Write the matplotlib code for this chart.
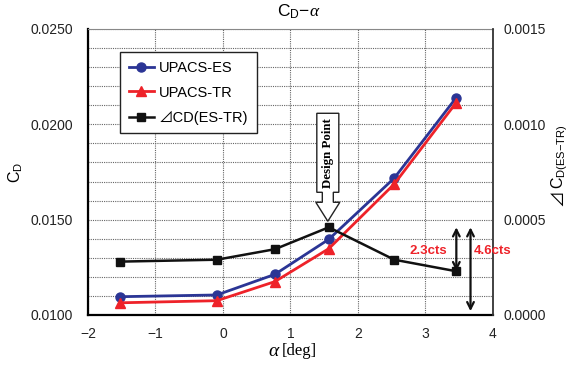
import matplotlib.pyplot as plt
import matplotlib.transforms as mtransforms
from matplotlib.patches import Polygon
from matplotlib.ticker import MultipleLocator, FormatStrFormatter

plt.rcParams['font.family'] = ['Liberation Sans', 'Noto Sans CJK JP', 'DejaVu Sans']
plt.rcParams['mathtext.fontset'] = 'custom'
plt.rcParams['mathtext.rm'] = 'Liberation Sans'
plt.rcParams['mathtext.it'] = 'Liberation Serif:italic'

# angle of attack [deg]
alpha = [-1.52, -0.09, 0.77, 1.57, 2.54, 3.45]
# drag coefficient, two transition settings
cd_es = [0.01096, 0.01105, 0.01213, 0.01397, 0.01718, 0.02136]
cd_tr = [0.01064, 0.01075, 0.01175, 0.01348, 0.01687, 0.02110]
# drag difference ES-TR
dcd = [0.00028, 0.00029, 0.000345, 0.00046, 0.00029, 0.00023]
i_design = 3

fig = plt.figure(figsize=(5.71, 3.67), dpi=100)
ax = fig.add_axes([0.154, 0.1417, 0.709, 0.7793])
ax2 = ax.twinx()

l1, = ax.plot(alpha, cd_es, color='#2b3595', lw=2, marker='o', ms=6.5, zorder=3)
l2, = ax.plot(alpha, cd_tr, color='#ee2229', lw=2, marker='^', ms=7, zorder=3)
l3, = ax2.plot(alpha, dcd, color='#111111', lw=1.8, marker='s', ms=5.5, zorder=3)

ax.set_xlim(-2, 4)
ax.set_ylim(0.0100, 0.0250)
ax2.set_ylim(0.0, 0.0015)
ax.xaxis.set_major_locator(MultipleLocator(1))
ax.yaxis.set_major_locator(MultipleLocator(0.005))
ax.yaxis.set_minor_locator(MultipleLocator(0.001))
ax.yaxis.set_major_formatter(FormatStrFormatter('%.4f'))
ax2.yaxis.set_major_locator(MultipleLocator(0.0005))
ax2.yaxis.set_major_formatter(FormatStrFormatter('%.4f'))

ax.grid(True, which='both', axis='y', ls=(0, (1, 1)), color='#666666', lw=0.8)
ax.grid(True, which='major', axis='x', ls=(0, (1, 1)), color='#666666', lw=0.8)
ax.set_axisbelow(True)

ax.tick_params(which='both', length=0, labelsize=10, colors='#222222')
ax.tick_params(axis='y', pad=11)
ax.tick_params(axis='x', pad=9)
ax2.tick_params(which='both', length=0, labelsize=10, colors='#222222', pad=8)

ax.spines['left'].set_linewidth(1.6)
ax.spines['bottom'].set_linewidth(1.6)
ax.spines['top'].set_color('#888888')
ax.spines['top'].set_linewidth(0.8)
ax.spines['right'].set_visible(False)
for s in ('left', 'bottom', 'top'):
    ax2.spines[s].set_visible(False)
ax2.spines['right'].set_color('#333333')
ax2.spines['right'].set_linewidth(1.3)

fig.text(299 / 571, 1 - 12 / 367, r'C$_\mathrm{D}$$-$$\mathit{\alpha}$', ha='center', va='center', fontsize=12.5)
fig.text(16 / 571, 1 - 172 / 367, r'C$_\mathrm{D}$', rotation=90, ha='center', va='center', fontsize=11.5)
# right axis label: triangle sign + C_D(ES-TR)
fig.text(558 / 571, 1 - 189 / 367, '⊿', rotation=90, ha='center', va='top', fontsize=12,
         family=['Noto Sans CJK JP'])
fig.text(560 / 571, 1 - 189 / 367, r'C$_{\mathrm{D(ES{-}TR)}}$', rotation=90, ha='center', va='bottom',
         fontsize=11.5)
fig.text(281 / 571, 1 - 352 / 367, r'$\mathit{\alpha}$', ha='right', va='center', fontsize=14)
fig.text(282 / 571, 1 - 351 / 367, '[deg]', ha='left', va='center', fontsize=12,
         family=['Liberation Serif'])

leg = ax2.legend([l1, l2, l3], ['UPACS-ES', 'UPACS-TR', '⊿CD(ES-TR)'],
                 loc='upper left', bbox_to_anchor=(0.079, 0.92), borderaxespad=0,
                 fontsize=10.5, fancybox=False, edgecolor='#222222', framealpha=1,
                 handlelength=1.75, handletextpad=0.3, labelspacing=0.75, borderpad=0.6)
leg.get_frame().set_linewidth(1.0)

# call-out arrow above the design point (vertices in inches)
xd, yd = alpha[i_design], dcd[i_design]
trans = fig.dpi_scale_trans + mtransforms.ScaledTranslation(xd, yd, ax2.transData)
verts = [(-0.01, 0.06), (-0.13, 0.25), (-0.065, 0.25), (-0.065, 0.35), (-0.12, 0.35),
         (-0.12, 1.14), (0.10, 1.14), (0.10, 0.35), (0.045, 0.35), (0.045, 0.25),
         (0.11, 0.25)]
ax2.add_patch(Polygon(verts, closed=True, transform=trans, facecolor='white',
                      edgecolor='#222222', lw=1.0, zorder=5, clip_on=False))
ax2.text(-0.01, 0.745, 'Design Point', transform=trans, rotation=90, ha='center', va='center',
         fontsize=9.3, fontweight='bold', family=['Liberation Serif'], zorder=6)

# count arrows at the last point
ax2.annotate('', xy=(3.46, dcd[-1]), xytext=(3.46, dcd[i_design]),
             arrowprops=dict(arrowstyle='<->', color='#111111', lw=1.6, shrinkA=0, shrinkB=0,
                             mutation_scale=12))
ax2.annotate('', xy=(3.67, 0.00002), xytext=(3.67, dcd[i_design]),
             arrowprops=dict(arrowstyle='<->', color='#111111', lw=1.6, shrinkA=0, shrinkB=0,
                             mutation_scale=12), annotation_clip=False)
ax2.text(3.05, 0.000335, '2.3cts', color='#ee2229', fontsize=9.5, fontweight='bold',
         ha='center', va='center')
ax2.text(4.0, 0.000335, '4.6cts', color='#ee2229', fontsize=9.5, fontweight='bold',
         ha='center', va='center', clip_on=False)

fig.savefig('out.png', dpi=100)
